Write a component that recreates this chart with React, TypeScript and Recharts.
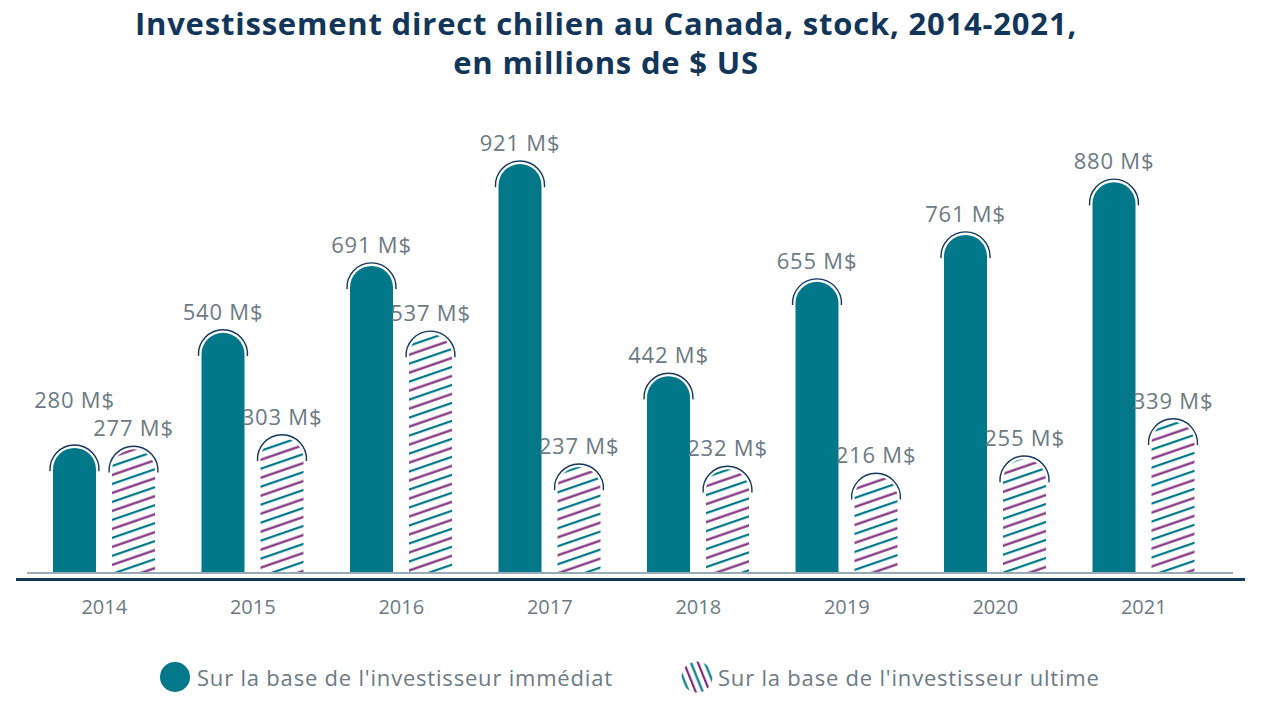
import React from "react"
import { BarChart, Bar, XAxis, YAxis, LabelList } from "recharts"

const years = ["2014", "2015", "2016", "2017", "2018", "2019", "2020", "2021"]
const immediate = [280, 540, 691, 921, 442, 655, 761, 880]
const ultimate = [277, 303, 537, 237, 232, 216, 255, 339]

const seriesNames = {
  immediate: "Sur la base de l'investisseur immédiat",
  ultimate: "Sur la base de l'investisseur ultime",
}

const data = years.map((year, i) => ({
  year,
  immediate: immediate[i],
  ultimate: ultimate[i],
}))

const TEAL = "#00788a"
const PURPLE = "#7d2a7c"
const NAVY = "#15385c"
const GREY = "#6c7a84"
const FONT = "'Open Sans', Lato, sans-serif"

function RoundBar(props: any) {
  const { x, y, width, height, fill } = props
  if (!height || height <= 0) return null
  const r = width / 2
  const cx = x + r
  const cy = y + r
  const R = r + 3
  const t = (4 * Math.PI) / 180
  const body = `M${x},${y + height} L${x},${cy} A${r},${r} 0 0 1 ${x + width},${cy} L${x + width},${y + height} Z`
  const arc = `M${cx - R * Math.cos(t)},${cy + R * Math.sin(t)} A${R},${R} 0 1 1 ${cx + R * Math.cos(t)},${cy + R * Math.sin(t)}`
  return (
    <g>
      <path d={body} fill={fill} />
      <path d={arc} fill="none" stroke={NAVY} strokeWidth={1.4} />
    </g>
  )
}

function makeLabel(other: number[], lift: boolean) {
  return (props: any) => {
    const { x, y, width, value, index } = props
    // raise the label when it would collide with its neighbour's
    const extra = lift && Math.abs(value - other[index]) < 30 ? 27 : 0
    return (
      <text
        x={x + width / 2}
        y={y - 13 - extra}
        textAnchor="middle"
        fontSize={22}
        letterSpacing={0.8}
        fill={GREY}
        fontFamily={FONT}
      >
        {value} M$
      </text>
    )
  }
}

function YearTick(props: any) {
  const { x, y, payload } = props
  return (
    <text x={x} y={y + 42} textAnchor="middle" fontSize={20} fill={GREY} fontFamily={FONT}>
      {payload.value}
    </text>
  )
}

function ChartLegend() {
  return (
    <div
      style={{
        position: "absolute",
        left: 0,
        top: 661,
        width: 1261,
        height: 34,
        fontFamily: FONT,
        fontSize: 22,
        letterSpacing: 0.8,
        color: GREY,
      }}
    >
      <div style={{ position: "absolute", left: 160, top: 0, display: "flex", alignItems: "center" }}>
        <svg width={32} height={32}>
          <circle cx={15} cy={16} r={15} fill={TEAL} />
        </svg>
        <span style={{ marginLeft: 5 }}>{seriesNames.immediate}</span>
      </div>
      <div style={{ position: "absolute", left: 681, top: 0, display: "flex", alignItems: "center" }}>
        <svg width={32} height={32}>
          <defs>
            <pattern id="legendHatch" patternUnits="userSpaceOnUse" width={13} height={40} patternTransform="rotate(-22)">
              <rect x={1} y={0} width={2.2} height={40} fill={PURPLE} />
              <rect x={7.5} y={0} width={2.2} height={40} fill={TEAL} />
            </pattern>
          </defs>
          <circle cx={16} cy={16} r={15.5} fill="url(#legendHatch)" />
        </svg>
        <span style={{ marginLeft: 5 }}>{seriesNames.ultimate}</span>
      </div>
    </div>
  )
}

export default function App() {
  return (
    <div style={{ position: "absolute", left: 0, top: 0, width: 1261, height: 723, background: "#fff" }}>
      <div
        style={{
          position: "absolute",
          left: 0,
          top: 4,
          width: 1212,
          textAlign: "center",
          fontFamily: FONT,
          fontWeight: 700,
          fontSize: 31,
          letterSpacing: 0.8,
          lineHeight: "39px",
          color: "#12365a",
        }}
      >
        Investissement direct chilien au Canada, stock, 2014-2021,
        <br />
        en millions de $ US
      </div>
      <BarChart
        width={1261}
        height={723}
        data={data}
        margin={{ top: 129, right: 43, bottom: 121, left: 30 }}
        barSize={43}
        barGap={16}
      >
        <defs>
          <pattern id="hatch" patternUnits="userSpaceOnUse" width={20} height={17} patternTransform="rotate(-19)">
            <rect x={0} y={0} width={20} height={2.2} fill={TEAL} />
            <rect x={0} y={8.5} width={20} height={2.2} fill={PURPLE} />
          </pattern>
        </defs>
        <YAxis hide domain={[0, 1000]} />
        <XAxis
          dataKey="year"
          axisLine={false}
          tickLine={false}
          tickSize={0}
          tickMargin={0}
          height={30}
          tick={<YearTick />}
          interval={0}
        />
        <Bar dataKey="immediate" name={seriesNames.immediate} fill={TEAL} shape={<RoundBar />} isAnimationActive={false}>
          <LabelList dataKey="immediate" content={makeLabel(ultimate, true)} />
        </Bar>
        <Bar dataKey="ultimate" name={seriesNames.ultimate} fill="url(#hatch)" shape={<RoundBar />} isAnimationActive={false}>
          <LabelList dataKey="ultimate" content={makeLabel(immediate, false)} />
        </Bar>
      </BarChart>
      <div style={{ position: "absolute", left: 27, top: 572, width: 1206, height: 1.5, background: "#9aabb8" }} />
      <div style={{ position: "absolute", left: 16, top: 578, width: 1229, height: 3, background: "#173a5e" }} />
      <ChartLegend />
    </div>
  )
}
